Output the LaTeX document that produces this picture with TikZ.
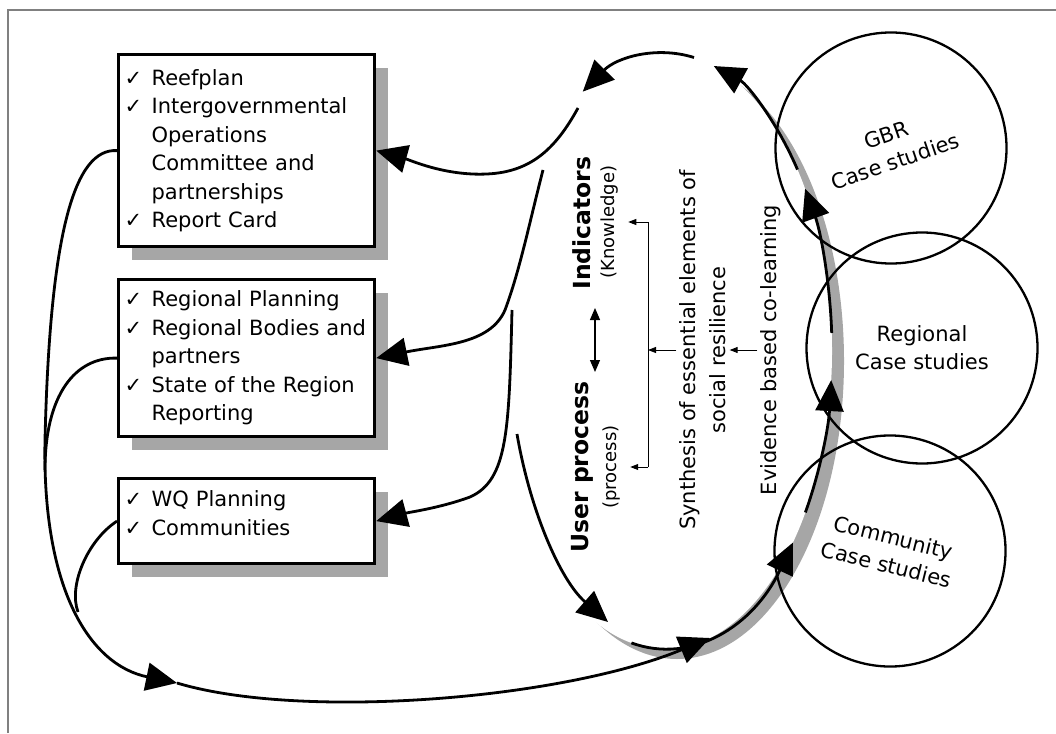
\documentclass[tikz,border=0pt]{standalone}
\usepackage{fontspec}
\setmainfont{DejaVu Sans}
\usetikzlibrary{arrows.meta, calc, shadows}

\newcommand{\chk}{\makebox[27pt][l]{✓}}
\newcommand{\ind}{\hspace*{27pt}}

\tikzset{
	listbox/.style = {draw, line width=3.2pt, fill=white, anchor=north west, text width=244pt, inner xsep=6pt, inner ysep=0pt, minimum width=256pt, align=left, font=\fontsize{21}{28.5}\selectfont, drop shadow={shadow xshift=13pt, shadow yshift=-13pt, fill=black!35, opacity=1}},
	casering/.style = {draw, circle, line width=2.3pt, minimum size=231pt, inner sep=0pt, align=center, font=\fontsize{21}{28}\selectfont},
	flow/.style = {line width=2.8pt, -{Triangle[length=31pt, width=28pt]}},
	feed/.style = {line width=2.8pt},
	tick/.style = {line width=0.9pt, -{Triangle[length=8pt, width=6pt]}},
	dbl/.style = {line width=1.2pt, {Triangle[length=12pt, width=10pt]}-{Triangle[length=12pt, width=10pt]}},
	vtitle/.style = {rotate=90, font=\bfseries\fontsize{23.5}{28}\selectfont},
	vsub/.style = {rotate=90, font=\fontsize{18}{22}\selectfont},
	vtext/.style = {rotate=90, align=center, font=\fontsize{21}{30}\selectfont}
}

\begin{document}
\begin{tikzpicture}[x=1pt, y=-1pt]
	\def\rx{167};
	\def\ry{298};
	\useasboundingbox (0,0) rectangle (1056,733);
	\draw[draw=black!50, line width=1.8pt] (8,733) -- (8,10) -- (1056,10);
	
	% the loop and its shadow
	\coordinate (loop) at (665,351);
	\fill[black!35] ($(loop)+(12,10)$) ellipse[x radius=\rx, y radius=\ry];
	\fill[white] (loop) ellipse[x radius=\rx, y radius=\ry];
	
	\node[listbox, minimum height=192pt] (reef) at (117,53) {\chk Reefplan\\ \chk Intergovernmental\\ \ind Operations\\ \ind Committee and\\ \ind partnerships\\ \chk Report Card};
	\node[listbox, minimum height=157pt] (region) at (117,278) {\chk Regional Planning\\ \chk Regional Bodies and\\ \ind partners\\ \chk State of the Region\\ \ind Reporting};
	\node[listbox, minimum height=85pt] (wq) at (117,477) {\chk WQ Planning\\ \chk Communities\\[-12pt]\mbox{}};
	
	\node[casering, rotate=19] (gbr) at (891,148) {GBR\\Case studies};
	\node[casering] (reg) at (922,348) {Regional\\Case studies};
	\node[casering, rotate=-14] (com) at (890,551) {Community\\Case studies};
	
	\foreach \a/\b in {101.6/40, 32.8/5.6, -3.5/-33, -37.5/-73, -80/-119.5}
		\draw[flow] ($(loop)+({\rx*cos(\a)},{\ry*sin(\a)})$) arc[start angle=\a, end angle=\b, x radius=\rx, y radius=\ry];
	
	\coordinate (lA) at (578,108);
	\coordinate (lB) at (543,170);
	\coordinate (lC) at (512,310);
	\coordinate (lD) at (517,434);
	\coordinate (lE) at (608,622);
	\coordinate (lF) at (710,638);
	\coordinate (merge) at (177,683);
	
	\draw[flow] (lA) .. controls (555,150) and (530,172) .. (487,174) .. controls (445,176) and (410,160) .. (reef.east);
	\draw[flow] (lB) .. controls (530,220) and (520,270) .. (505,310) .. controls (490,345) and (440,345) .. (region.east);
	\draw[flow] (lC) .. controls (509,430) and (508,480) .. (470,497) .. controls (440,508) and (410,512) .. (wq.east);
	\draw[flow] (lD) .. controls (530,510) and (560,580) .. (lE);
	
	\draw[flow] (reef.west) .. controls (75,148) and (50,230) .. (45,440) .. controls (42,590) and (90,665) .. (merge);
	\draw[feed] (region.west) .. controls (75,357) and (45,395) .. (45,470);
	\draw[feed] (wq.west) .. controls (88,540) and (68,585) .. (78,612);
	\draw[flow] (merge) .. controls (300,720) and (560,700) .. (lF);
	
	\node[vtitle] (ind) at (582,223) {Indicators};
	\node[vsub] (know) at (610,222) {(Knowledge)};
	\node[vtitle] (user) at (582,467) {User process};
	\node[vsub] (proc) at (612,467) {(process)};
	\node[vtext] (synth) at (703,350) {Synthesis of essential elements of\\social resilience};
	\node[vtext] (evid) at (771,350) {Evidence based co-learning};
	
	\coordinate (dtop) at (595,308);
	\coordinate (dbot) at (595,372);
	\draw[dbl] (dtop) -- (dbot);
	
	\coordinate (brk) at (648,350);
	\draw[line width=0.9pt] (brk |- know) -- (brk |- proc);
	\draw[tick, shorten >=6pt] (brk |- know) -- (know.south);
	\draw[tick, shorten >=6pt] (brk |- proc) -- (proc.south);
	\draw[tick] (synth.north) -- (brk);
	\draw[tick] (evid.north) -- (synth.south);
\end{tikzpicture}
\end{document}
